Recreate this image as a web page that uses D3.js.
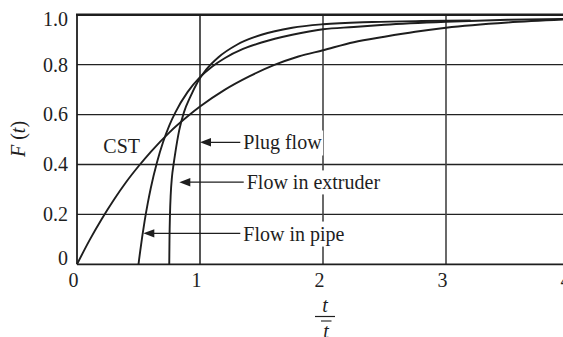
<!DOCTYPE html>
<html>
<head>
<meta charset="utf-8">
<script src="https://cdn.jsdelivr.net/npm/d3@7"></script>
<style>
  html, body { margin: 0; padding: 0; background: #fff; }
  svg { display: block; }
  text { font-family: "Liberation Serif", "Times New Roman", serif; fill: #1e1e1e; }
</style>
</head>
<body>
<svg id="chart" width="563" height="337"></svg>
<script>
// Cumulative residence time distributions F(t) against reduced time t / t-bar
const xTicks = [0, 1, 2, 3, 4];
const yTicks = [0, 0.2, 0.4, 0.6, 0.8, 1.0];
const yTickLabels = ["0", "0.2", "0.4", "0.6", "0.8", "1.0"];

// Continuous stirred tank
const cstX = [0, 0.1, 0.2, 0.3, 0.4, 0.5, 0.6, 0.75, 0.9, 1.0, 1.2, 1.4, 1.6, 1.8, 2.0, 2.25, 2.5, 2.75, 3.0, 3.5, 4.0];
const cstF = [0, 0.095, 0.181, 0.259, 0.33, 0.393, 0.451, 0.528, 0.593, 0.632, 0.699, 0.753, 0.798, 0.833, 0.858, 0.89, 0.912, 0.932, 0.948, 0.969, 0.982];

// Laminar flow in a pipe
const pipeX = [0.5, 0.505, 0.515, 0.53, 0.55, 0.575, 0.6, 0.65, 0.7, 0.75, 0.8, 0.9, 1.0, 1.1, 1.2, 1.35, 1.5, 1.75, 2.0, 2.25, 2.5, 3.0, 3.5, 4.0];
const pipeF = [0, 0.02, 0.057, 0.11, 0.174, 0.244, 0.306, 0.408, 0.49, 0.556, 0.609, 0.691, 0.75, 0.793, 0.826, 0.863, 0.889, 0.92, 0.942, 0.951, 0.96, 0.972, 0.98, 0.984];

// Flow in a single screw extruder
const extX = [0.75, 0.752, 0.756, 0.762, 0.772, 0.785, 0.80, 0.83, 0.87, 0.92, 0.98, 1.05, 1.15, 1.3, 1.5, 1.75, 2.0, 2.4, 2.8, 3.2];
const extF = [0, 0.1, 0.2, 0.28, 0.35, 0.40, 0.45, 0.535, 0.61, 0.67, 0.73, 0.78, 0.83, 0.88, 0.92, 0.948, 0.962, 0.971, 0.975, 0.977];

// Plug flow: a step at t = t-bar
const plugX = [1, 1];
const plugF = [0, 1];

// Callout labels: text, arrow tip (data coords), text start x, baseline F
const calloutNames = ["Plug flow", "Flow in extruder", "Flow in pipe"];
const calloutTipX = [1.0, 0.832, 0.539];
const calloutTipF = [0.489, 0.329, 0.124];
const calloutTextX = [1.352, 1.38, 1.352];

const svg = d3.select("#chart");
const x = d3.scaleLinear().domain([0, 4]).range([77, 569]);
const y = d3.scaleLinear().domain([0, 1]).range([264.3, 14.8]);

const ink = "#1e1e1e";
const W = 563;

// horizontal grid lines
svg.append("g").selectAll("line").data(yTicks.filter(d => d > 0 && d < 1)).join("line")
  .attr("x1", x(0)).attr("x2", W)
  .attr("y1", d => y(d)).attr("y2", d => y(d))
  .attr("stroke", "#222").attr("stroke-width", 1.3);

// vertical grid lines
svg.append("g").selectAll("line").data(xTicks.filter(d => d > 1 && d < 4)).join("line")
  .attr("x1", d => x(d)).attr("x2", d => x(d))
  .attr("y1", y(1)).attr("y2", y(0))
  .attr("stroke", "#444").attr("stroke-width", 1.6);

// frame: top border, left and bottom axes
svg.append("line").attr("x1", x(0) - 1).attr("x2", W).attr("y1", y(1)).attr("y2", y(1))
  .attr("stroke", ink).attr("stroke-width", 2.6);
svg.append("line").attr("x1", x(0)).attr("x2", x(0)).attr("y1", y(1)).attr("y2", y(0))
  .attr("stroke", ink).attr("stroke-width", 1.8);
svg.append("line").attr("x1", x(0)).attr("x2", W).attr("y1", y(0)).attr("y2", y(0))
  .attr("stroke", ink).attr("stroke-width", 1.8);

// y tick labels
svg.append("g").selectAll("text").data(yTicks).join("text")
  .attr("x", 68)
  .attr("y", d => y(d) + (d === 1 ? 4 : d === 0 ? -6 : 0))
  .attr("dy", "0.34em")
  .attr("text-anchor", "end")
  .attr("font-size", 20)
  .text((d, i) => yTickLabels[i]);

// x tick labels
svg.append("g").selectAll("text").data(xTicks).join("text")
  .attr("x", d => x(d) - 3.5)
  .attr("y", 286.5)
  .attr("text-anchor", "middle")
  .attr("font-size", 20)
  .text(d => d3.format("d")(d));

// curves
const line = d3.line().x(d => x(d[0])).y(d => y(d[1])).curve(d3.curveMonotoneX);
const series = [
  d3.zip(cstX, cstF),
  d3.zip(pipeX, pipeF),
  d3.zip(extX, extF)
];
svg.append("g").selectAll("path").data(series).join("path")
  .attr("d", line)
  .attr("fill", "none")
  .attr("stroke", ink)
  .attr("stroke-width", 1.9)
  .attr("stroke-linejoin", "round");

// plug flow step
svg.append("path")
  .attr("d", d3.line().x(d => x(d[0])).y(d => y(d[1]))(d3.zip(plugX, plugF)))
  .attr("stroke", ink).attr("stroke-width", 1.5).attr("fill", "none");

// callouts with white backing so grid lines break behind the text
const fs = 20;
calloutNames.forEach((name, i) => {
  const tipX = x(calloutTipX[i]);
  const tipY = y(calloutTipF[i]);
  const tx = x(calloutTextX[i]);
  const t = svg.append("text")
    .attr("x", tx)
    .attr("y", tipY)
    .attr("dy", "0.36em")
    .attr("font-size", fs)
    .text(name);
  const bb = t.node().getBBox();
  svg.insert("rect", () => t.node())
    .attr("x", bb.x - 1).attr("y", bb.y - 1)
    .attr("width", bb.width + 2).attr("height", bb.height + 2)
    .attr("fill", "#fff");
  svg.append("line")
    .attr("x1", tipX + 8).attr("x2", tx - 3)
    .attr("y1", tipY).attr("y2", tipY)
    .attr("stroke", ink).attr("stroke-width", 1.3);
  svg.append("path")
    .attr("d", `M${tipX},${tipY} L${tipX + 11},${tipY - 4.2} L${tipX + 11},${tipY + 4.2} Z`)
    .attr("fill", ink);
});

// CST label
svg.append("text")
  .attr("x", x(0.214)).attr("y", y(0.446))
  .attr("font-size", fs)
  .text("CST");

// y axis title: F (t)
const yt = svg.append("text")
  .attr("transform", "translate(25,139) rotate(-90)")
  .attr("text-anchor", "middle")
  .attr("font-size", fs);
yt.append("tspan").attr("font-style", "italic").text("F");
yt.append("tspan").text(" (");
yt.append("tspan").attr("font-style", "italic").text("t");
yt.append("tspan").text(")");

// x axis title: t over t-bar
const cx = 325;
svg.append("text").attr("x", cx).attr("y", 312)
  .attr("text-anchor", "middle").attr("font-style", "italic").attr("font-size", fs).text("t");
svg.append("line").attr("x1", cx - 10).attr("x2", cx + 10).attr("y1", 316.5).attr("y2", 316.5)
  .attr("stroke", ink).attr("stroke-width", 1.2);
svg.append("line").attr("x1", cx - 4).attr("x2", cx + 6.5).attr("y1", 321).attr("y2", 321)
  .attr("stroke", ink).attr("stroke-width", 1.1);
svg.append("text").attr("x", cx + 1).attr("y", 337.5)
  .attr("text-anchor", "middle").attr("font-style", "italic").attr("font-size", fs).text("t");
</script>
</body>
</html>
